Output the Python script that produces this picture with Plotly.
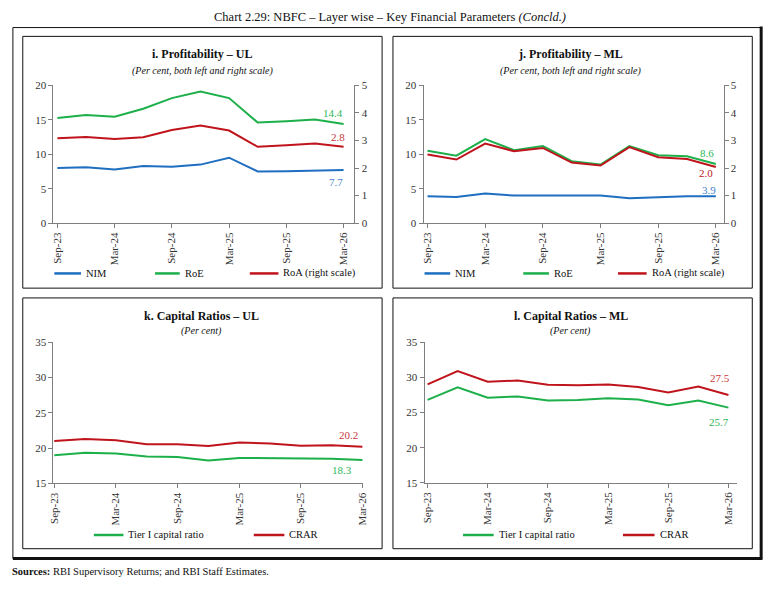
import plotly.graph_objects as go

W, H = 779, 589

quarters = ["Sep-23", "Dec-23", "Mar-24", "Jun-24", "Sep-24", "Dec-24",
            "Mar-25", "Jun-25", "Sep-25", "Dec-25", "Mar-26"]
tick_labels = ["Sep-23", "Mar-24", "Sep-24", "Mar-25", "Sep-25", "Mar-26"]

# Panel i: Profitability - UL
ul_nim = [8.0, 8.1, 7.8, 8.3, 8.2, 8.5, 9.5, 7.5, 7.55, 7.6, 7.7]
ul_roe = [15.25, 15.7, 15.45, 16.6, 18.15, 19.1, 18.15, 14.6, 14.8, 15.05, 14.4]
ul_roa = [3.08, 3.13, 3.05, 3.12, 3.38, 3.54, 3.36, 2.77, 2.83, 2.89, 2.77]

# Panel j: Profitability - ML
ml_nim = [3.9, 3.8, 4.3, 4.0, 4.0, 4.0, 4.0, 3.6, 3.75, 3.9, 3.9]
ml_roe = [10.5, 9.8, 12.2, 10.6, 11.2, 9.0, 8.5, 11.2, 9.85, 9.7, 8.6]
ml_roa = [2.49, 2.31, 2.89, 2.61, 2.73, 2.2, 2.09, 2.76, 2.39, 2.33, 2.04]

# Panel k: Capital Ratios - UL
ul_tier1 = [19.0, 19.35, 19.25, 18.8, 18.75, 18.25, 18.6, 18.55, 18.45, 18.5, 18.3]
ul_crar = [21.0, 21.3, 21.1, 20.55, 20.55, 20.3, 20.8, 20.65, 20.35, 20.4, 20.2]

# Panel l: Capital Ratios - ML
ml_tier1 = [26.8, 28.6, 27.1, 27.3, 26.7, 26.8, 27.05, 26.85, 26.05, 26.7, 25.7]
ml_crar = [29.0, 30.9, 29.4, 29.55, 28.95, 28.9, 29.0, 28.65, 27.85, 28.7, 27.5]

BLUE = "#1F6FC0"
GREEN = "#1DB04A"
RED = "#C0141C"
LBLUE = "#3F82CF"
LGREEN = "#2DB75A"
LRED = "#C8383C"
FONT = "Liberation Serif"
AX = "#7F7F7F"


def px(x):
    return x / W


def py(y):
    return 1 - y / H


fig = go.Figure()


def line(x, y, color, xa, ya, name):
    fig.add_trace(go.Scatter(x=x, y=y, mode="lines", name=name,
                             line=dict(color=color, width=2),
                             xaxis=xa, yaxis=ya, showlegend=False,
                             hoverinfo="x+y+name"))


line(quarters, ul_nim, BLUE, "x", "y", "NIM")
line(quarters, ul_roe, GREEN, "x", "y", "RoE")
line(quarters, ul_roa, RED, "x", "y2", "RoA (right scale)")
line(quarters, ml_nim, BLUE, "x2", "y3", "NIM")
line(quarters, ml_roe, GREEN, "x2", "y3", "RoE")
line(quarters, ml_roa, RED, "x2", "y4", "RoA (right scale)")
line(quarters, ul_tier1, GREEN, "x3", "y5", "Tier I capital ratio")
line(quarters, ul_crar, RED, "x3", "y5", "CRAR")
line(quarters, ml_tier1, GREEN, "x4", "y6", "Tier I capital ratio")
line(quarters, ml_crar, RED, "x4", "y6", "CRAR")

tickfont = dict(family=FONT, size=11, color="#333333")


def xax(d0, d1, r0, r1, anchor):
    return dict(domain=[px(d0), px(d1)], range=[r0, r1], anchor=anchor,
                type="category", tickmode="array", tickvals=tick_labels,
                ticktext=tick_labels, tickangle=-90, ticks="outside",
                ticklen=4, tickcolor=AX, showline=True, linecolor=AX,
                linewidth=1, showgrid=False, zeroline=False,
                tickfont=tickfont)


def yax(top, bot, r0, r1, anchor, dtick, side="left", overlay=None):
    d = dict(range=[r0, r1], anchor=anchor, dtick=dtick, tick0=0,
             ticks="outside", ticklen=4, tickcolor=AX, showline=True,
             linecolor=AX, linewidth=1, showgrid=False, zeroline=False,
             tickfont=tickfont, side=side)
    if overlay:
        d["overlaying"] = overlay
    else:
        d["domain"] = [py(bot), py(top)]
    return d


fig.update_layout(
    width=W, height=H, margin=dict(l=0, r=0, t=0, b=0),
    paper_bgcolor="white", plot_bgcolor="rgba(0,0,0,0)",
    showlegend=False,
    xaxis=xax(49, 354, -0.14, 10.38, "y"),
    yaxis=yax(81, 221.7, 0, 20, "x", 5),
    yaxis2=yax(81, 221.7, 0, 5, "x", 1, side="right", overlay="y"),
    xaxis2=xax(424, 728, -0.137, 10.27, "y3"),
    yaxis3=yax(81, 221.7, 0, 20, "x2", 5),
    yaxis4=yax(81, 221.7, 0, 5, "x2", 1, side="right", overlay="y3"),
    xaxis3=xax(49, 363, -0.03, 10.03, "y5"),
    yaxis5=yax(343.3, 487.3, 15, 35, "x3", 5),
    xaxis4=xax(425, 742, -0.1, 10.3, "y6"),
    yaxis6=yax(343.3, 486.7, 15, 35, "x4", 5),
)

shapes = []
ann = []

# outer frame
shapes.append(dict(type="rect", xref="paper", yref="paper", x0=px(8), x1=px(766),
                   y0=py(564), y1=py(22), line=dict(color="#111111", width=1)))
shapes.append(dict(type="line", xref="paper", yref="paper", x0=px(766), x1=px(766),
                   y0=py(565), y1=py(21), line=dict(color="#111111", width=3)))
shapes.append(dict(type="line", xref="paper", yref="paper", x0=px(8), x1=px(767),
                   y0=py(564), y1=py(564), line=dict(color="#111111", width=3)))

# panel frames
for (x0, x1, y0, y1) in [(18, 382, 31, 288), (393, 757, 31, 288),
                         (18, 382, 298, 554), (393, 757, 298, 554)]:
    shapes.append(dict(type="rect", xref="paper", yref="paper", x0=px(x0), x1=px(x1),
                       y0=py(y1), y1=py(y0), line=dict(color="#111111", width=1)))


def text(x, y, t, size, xanchor="center", color="#111111"):
    ann.append(dict(xref="paper", yref="paper", x=px(x), y=py(y), text=t,
                    showarrow=False, xanchor=xanchor, yanchor="middle",
                    font=dict(family=FONT, size=size, color=color)))


text(390, 11, "Chart 2.29: NBFC – Layer wise – Key Financial Parameters <i>(Concld.)</i>", 12.5)
text(200, 49, "<b>i. Profitability – UL</b>", 12)
text(200, 66, "<i>(Per cent, both left and right scale)</i>", 10)
text(573, 49, "<b>j. Profitability – ML</b>", 12)
text(573, 66, "<i>(Per cent, both left and right scale)</i>", 10)
text(199, 316, "<b>k. Capital Ratios – UL</b>", 12)
text(199, 332, "<i>(Per cent)</i>", 10)
text(573, 316, "<b>l. Capital Ratios – ML</b>", 12)
text(573, 332, "<i>(Per cent)</i>", 10)
text(5, 577, "<b>Sources:</b> RBI Supervisory Returns; and RBI Staff Estimates.", 10.5, xanchor="left")


def legend_item(x0, x1, y, color, label):
    shapes.append(dict(type="line", xref="paper", yref="paper", x0=px(x0), x1=px(x1),
                       y0=py(y), y1=py(y), line=dict(color=color, width=2.5)))
    text(x1 + 3, y, label, 10.5, xanchor="left")


legend_item(50, 77, 273, BLUE, "NIM")
legend_item(152, 177, 273, GREEN, "RoE")
legend_item(248, 277, 273, RED, "RoA (right scale)")
legend_item(425, 451, 273, BLUE, "NIM")
legend_item(525, 551, 273, GREEN, "RoE")
legend_item(621, 650, 273, RED, "RoA (right scale)")
legend_item(90, 120, 540, GREEN, "Tier I capital ratio")
legend_item(252, 283, 540, RED, "CRAR")
legend_item(464, 495, 540, GREEN, "Tier I capital ratio")
legend_item(626, 658, 540, RED, "CRAR")


def end_label(xa, ya, series, color, dx, dy):
    ann.append(dict(xref=xa, yref=ya, x=quarters[-1], y=series[-1],
                    text=f"{series[-1]:.1f}", showarrow=False,
                    xanchor="center", yanchor="middle", xshift=dx, yshift=dy,
                    font=dict(family=FONT, size=11, color=color)))


end_label("x", "y", ul_roe, LGREEN, -11, 11)
end_label("x", "y2", ul_roa, LRED, -6, 10)
end_label("x", "y", ul_nim, LBLUE, -8, -12)
end_label("x2", "y3", ml_roe, LGREEN, -9, 11)
end_label("x2", "y4", ml_roa, RED, -10, -6)
end_label("x2", "y3", ml_nim, LBLUE, -7, 6)
end_label("x3", "y5", ul_crar, LRED, -14, 12)
end_label("x3", "y5", ul_tier1, LGREEN, -20, -10)
end_label("x4", "y6", ml_crar, LRED, -8, 17)
end_label("x4", "y6", ml_tier1, LGREEN, -9, -14)

fig.update_layout(shapes=shapes, annotations=ann)
fig.write_html("out.html")
